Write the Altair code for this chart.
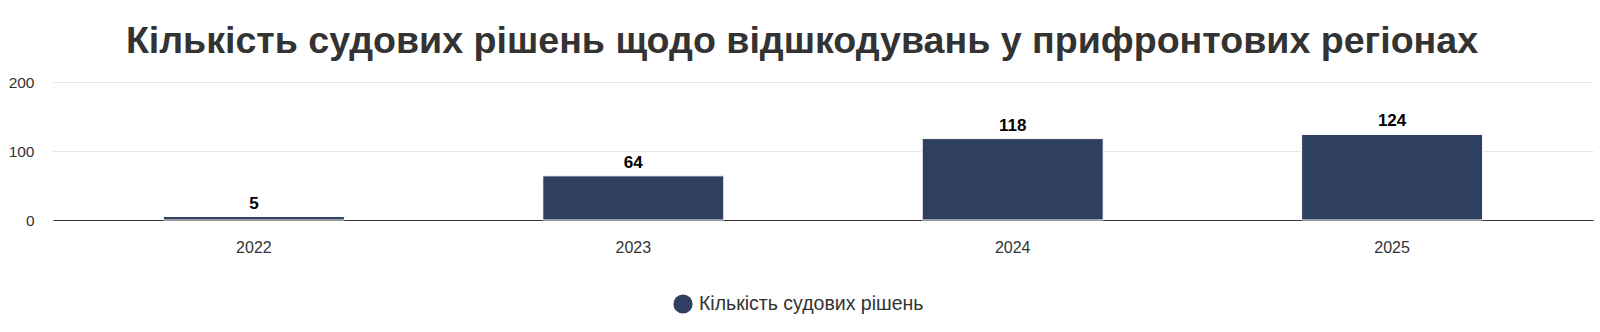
import altair as alt
import pandas as pd

years = ["2022", "2023", "2024", "2025"]
counts = [5, 64, 118, 124]
series_name = "Кількість судових рішень"
title_text = "Кількість судових рішень щодо відшкодувань у прифронтових регіонах"

df = pd.DataFrame({"year": years, "count": counts, "series": [series_name] * len(years)})

FONT = "Liberation Sans"
BAR = "#2f3f5f"

x_enc = alt.X(
    "year:N",
    sort=years,
    scale=alt.Scale(paddingInner=0.523, paddingOuter=0.291),
    axis=alt.Axis(
        title=None, labelAngle=0, ticks=False, domainColor="#333333", domainWidth=1,
        labelFont=FONT, labelFontSize=16, labelColor="#333333", labelPadding=19,
    ),
)

y_enc = alt.Y(
    "count:Q",
    scale=alt.Scale(domain=[0, 200], nice=False),
    axis=alt.Axis(
        title=None, values=[0, 100, 200], ticks=False, domain=False,
        gridColor="#e6e6e6", gridWidth=1,
        labelFont=FONT, labelFontSize=15.5, labelColor="#333333", labelPadding=19,
    ),
)

bars = alt.Chart(df).mark_bar(stroke="white", strokeWidth=1).encode(
    x=x_enc,
    y=y_enc,
    color=alt.Color(
        "series:N",
        scale=alt.Scale(domain=[series_name], range=[BAR]),
        legend=alt.Legend(
            title=None, orient="none", legendX=620, legendY=212, direction="horizontal",
            symbolType="circle", symbolSize=370, symbolStrokeWidth=0,
            labelFont=FONT, labelFontSize=19.5, labelColor="#333333", labelOffset=6,
            labelLimit=500, padding=0,
        ),
    ),
)

labels = alt.Chart(df).mark_text(
    dy=-8, baseline="alphabetic", font=FONT, fontSize=17, fontWeight="bold", color="#000000"
).encode(
    x=alt.X("year:N", sort=years),
    y=alt.Y("count:Q"),
    text=alt.Text("count:Q"),
)

chart = (
    alt.layer(bars, labels)
    .properties(
        width=1540,
        height=138,
        autosize=alt.AutoSizeParams(type="none"),
        padding={"left": 53, "top": 82, "right": 7, "bottom": 112},
        title=alt.TitleParams(
            text=title_text, anchor="middle", frame="group", font=FONT, fontSize=37.6,
            fontWeight="bold", color="#333333", dx=-21, dy=36, offset=20, baseline="alphabetic",
        ),
    )
    .configure_view(stroke=None)
)

chart.save("out.html", embed_options={"renderer": "svg", "actions": False})
